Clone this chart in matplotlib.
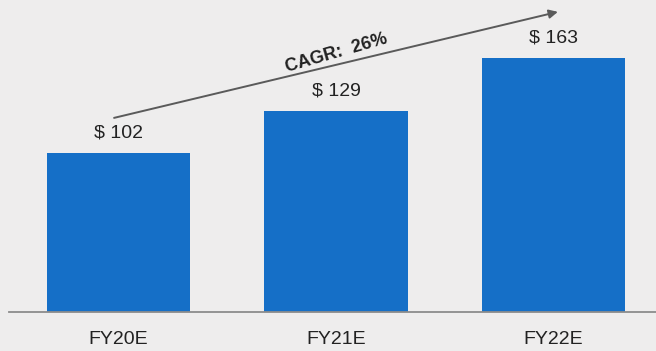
import matplotlib.pyplot as plt

years = ["FY20E", "FY21E", "FY22E"]
revenue = [102, 129, 163]
cagr_label = "CAGR:  26%"

BG = "#eeeded"
BAR = "#156fc7"
TEXT = "#222222"

plt.rcParams['font.family'] = ['Liberation Sans', 'DejaVu Sans']

fig = plt.figure(figsize=(6.56, 3.51), dpi=100, facecolor=BG)
ax = fig.add_axes([9 / 656, 39 / 351, 1 - 9 / 656, 312 / 351])
ax.set_facecolor(BG)

xs = range(len(years))
ax.bar(xs, revenue, width=0.66, color=BAR)

for x, v in zip(xs, revenue):
    ax.annotate(f"$ {v}", (x, v), xytext=(0, 14.5), textcoords="offset points",
                ha="center", va="center", fontsize=14, color=TEXT)

# growth arrow running from the first to the last bar
ax.annotate("", xy=(2.02, revenue[-1] + 29.5), xytext=(-0.02, revenue[0] + 22.5),
            arrowprops=dict(arrowstyle="-|>", color="#5a5a5a", lw=1.4,
                            mutation_scale=13, shrinkA=0, shrinkB=0))
ax.text(1.0, 166, cagr_label, rotation=16, ha="center", va="center",
        fontsize=13, fontweight="bold", color=TEXT, rotation_mode="anchor")

ax.set_xlim(-0.503, 2.471)
ax.set_ylim(0, 200.1)
ax.set_xticks(list(xs))
ax.set_xticklabels(years, fontsize=14, color=TEXT)
ax.tick_params(axis="x", length=0, pad=14)
ax.set_yticks([])
for side in ["top", "left", "right"]:
    ax.spines[side].set_visible(False)
ax.spines["bottom"].set_color("#8c8c8c")
ax.spines["bottom"].set_linewidth(1.3)

fig.savefig("out.png", dpi=100, facecolor=BG)
